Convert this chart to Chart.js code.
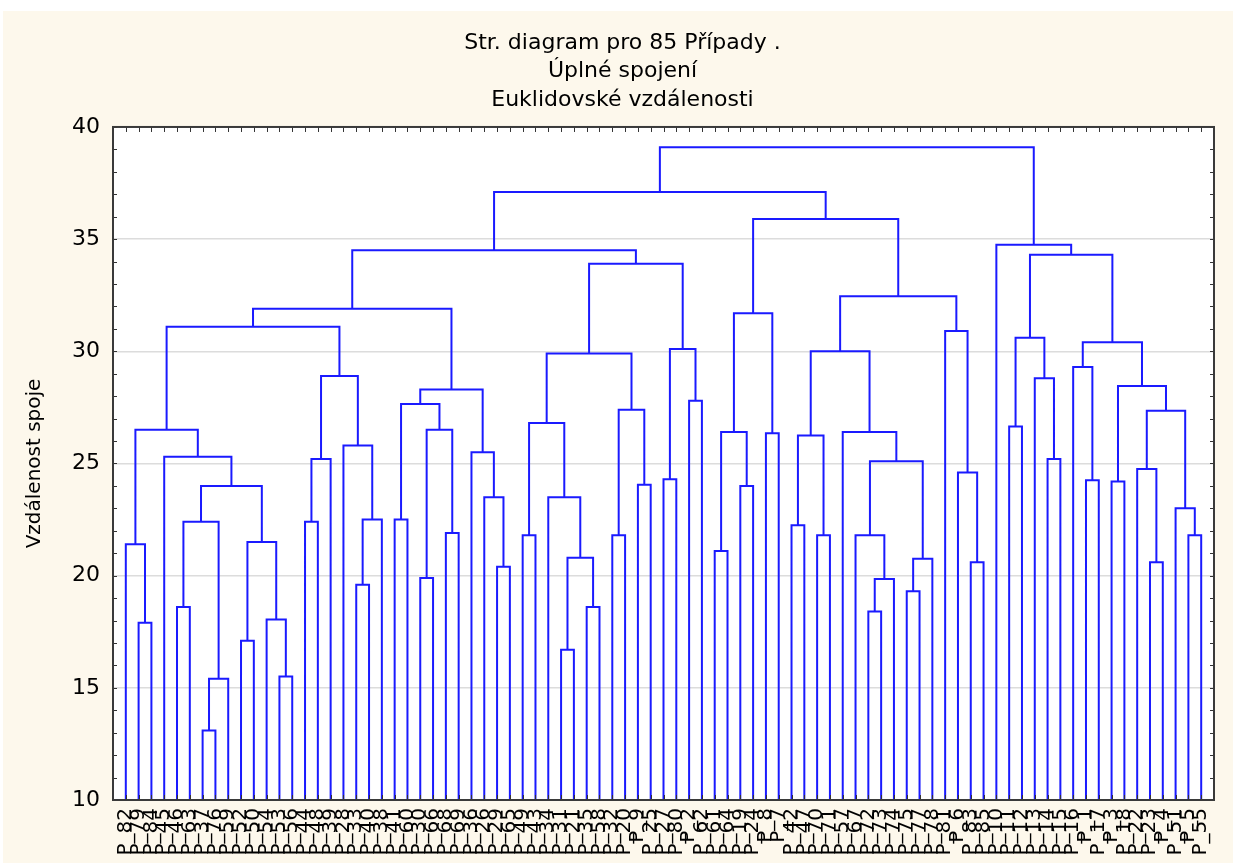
<!DOCTYPE html>
<html>
<head>
<meta charset="utf-8">
<title>Str. diagram pro 85 Případy</title>
<script src="https://cdn.jsdelivr.net/npm/chart.js@4.4.1/dist/chart.umd.min.js"></script>
<style>
  html, body { margin: 0; padding: 0; background: #fff; }
  #wrap { position: absolute; left: 3px; top: 11px; width: 1230px; height: 852px; background: #fdf8ec; overflow: hidden; }
</style>
</head>
<body>
<div id="wrap"><canvas id="chart" width="1230" height="852"></canvas></div>
<script>
// popisky listů (pořadí zleva doprava)
const leafLabels = [
  "P_82","P_79","P_84","P_45","P_46","P_63","P_37","P_76","P_59","P_52",
  "P_50","P_54","P_53","P_56","P_44","P_48","P_39","P_28","P_33","P_40",
  "P_38","P_41","P_60","P_30","P_66","P_68","P_69","P_36","P_26","P_29",
  "P_65","P_49","P_43","P_34","P_31","P_21","P_35","P_58","P_32","P_20",
  "P_9","P_25","P_27","P_80","P_2","P_62","P_61","P_64","P_19","P_24",
  "P_8","P_7","P_42","P_47","P_70","P_71","P_57","P_67","P_72","P_73",
  "P_74","P_75","P_77","P_78","P_81","P_6","P_83","P_85","P_10","P_11",
  "P_12","P_13","P_14","P_15","P_16","P_1","P_17","P_3","P_18","P_22",
  "P_23","P_4","P_51","P_5","P_55"
];

const titleLines = ["Str. diagram pro 85 Případy .", "Úplné spojení", "Euklidovské vzdálenosti"];
const yTitle = "Vzdálenost spoje";
const yMin = 10, yMax = 40, yStep = 5;

// shluky: [levý, pravý, vzdálenost spoje], list = číslo listu (1..85)
const clusterA = [1, [2, 3, 17.9], 21.4];
const clusterB = [4, [[[5, 6, 18.6], [[7, 8, 13.1], 9, 15.4], 22.4],
                      [[10, 11, 17.1], [12, [13, 14, 15.5], 18.05], 21.5], 24.0], 25.3];
const clusterC = [[[15, 16, 22.4], 17, 25.2], [18, [[19, 20, 19.6], 21, 22.5], 25.8], 28.9];
const clusterD = [[[22, 23, 22.5], [[24, 25, 19.9], [26, 27, 21.9], 26.5], 27.65],
                  [28, [29, [30, 31, 20.4], 23.5], 25.5], 28.3];
const clusterE = [[[32, 33, 21.8], [34, [[35, 36, 16.7], [37, 38, 18.6], 20.8], 23.5], 26.8],
                  [[39, 40, 21.8], [41, 42, 24.05], 27.4], 29.9];
const clusterF = [[43, 44, 24.3], [45, 46, 27.8], 30.1];
const clusterG = [[[47, 48, 21.1], [49, 50, 24.0], 26.4], [51, 52, 26.35], 31.7];
const clusterH = [[[[53, 54, 22.25], [55, 56, 21.8], 26.25],
                   [57, [[58, [[59, 60, 18.4], 61, 19.85], 21.8], [[62, 63, 19.3], 64, 20.75], 25.1], 26.4], 30.0],
                  [65, [66, [67, 68, 20.6], 24.6], 30.9], 32.45];
const clusterR = [69, [[[70, 71, 26.65], [72, [73, 74, 25.2], 28.8], 30.6],
                       [[75, [76, 77, 24.25], 29.3],
                        [[78, 79, 24.2], [[80, [81, 82, 20.6], 24.75], [83, [84, 85, 21.8], 23.0], 27.35], 28.45], 30.4], 34.3], 34.75];

const leftPart = [[[[clusterA, clusterB, 26.5], clusterC, 31.1], clusterD, 31.9], [clusterE, clusterF, 33.9], 34.5];
const midPart = [clusterG, clusterH, 35.9];
const tree = [[leftPart, midPart, 37.1], clusterR, 39.1];

// sestavení čar dendrogramu
let order = 0;
const posLabel = {};
const points = [];
function walk(node) {
  if (typeof node === "number") {
    order++;
    posLabel[order] = leafLabels[node - 1];
    return { x: order, h: yMin };
  }
  const L = walk(node[0]);
  const R = walk(node[1]);
  const h = node[2];
  points.push({ x: L.x, y: L.h }, { x: L.x, y: h }, { x: R.x, y: h }, { x: R.x, y: R.h }, { x: R.x, y: null });
  return { x: (L.x + R.x) / 2, h: h };
}
walk(tree);
const leafCount = order;

const family = "'DejaVu Sans', 'Liberation Sans', Arial";
const font = { family: family, size: 20, weight: "normal" };
const bigFont = { family: family, size: 22, weight: "normal" };

const framePlugin = {
  id: "frame",
  beforeDraw(chart) {
    const { ctx, chartArea: a } = chart;
    ctx.save();
    ctx.fillStyle = "#ffffff";
    ctx.fillRect(a.left, a.top, a.right - a.left, a.bottom - a.top);
    ctx.restore();
  },
  afterDraw(chart) {
    const { ctx, chartArea: a, scales: { x, y } } = chart;
    ctx.save();
    ctx.strokeStyle = "#333333";
    ctx.lineWidth = 1;
    ctx.beginPath();
    for (let i = 1; i <= leafCount; i++) {
      const px = Math.round(x.getPixelForValue(i)) + 0.5;
      ctx.moveTo(px, a.top); ctx.lineTo(px, a.top + 5);
      ctx.moveTo(px, a.bottom); ctx.lineTo(px, a.bottom - 5);
    }
    for (let v = yMin; v <= yMax; v++) {
      const py = Math.round(y.getPixelForValue(v)) + 0.5;
      ctx.moveTo(a.left, py); ctx.lineTo(a.left + 4, py);
      ctx.moveTo(a.right, py); ctx.lineTo(a.right - 4, py);
    }
    ctx.stroke();
    ctx.lineWidth = 2;
    ctx.strokeStyle = "#3a3a3a";
    ctx.strokeRect(a.left, a.top, a.right - a.left, a.bottom - a.top);
    ctx.restore();
  }
};

const ctx = document.getElementById("chart").getContext("2d");
new Chart(ctx, {
  type: "line",
  data: {
    datasets: [{
      data: points,
      borderColor: "#1a1aff",
      borderWidth: 2,
      pointRadius: 0,
      spanGaps: false,
      tension: 0
    }]
  },
  options: {
    responsive: false,
    animation: false,
    layout: { padding: { left: 28, right: 19, top: 0, bottom: 0 } },
    plugins: {
      legend: { display: false },
      tooltip: { enabled: false },
      title: {
        display: true,
        text: titleLines,
        color: "#000",
        font: { family: family, size: 22, weight: "normal", lineHeight: 1.295 },
        padding: { top: 18, bottom: 12.5 }
      }
    },
    scales: {
      x: {
        type: "linear",
        min: 0,
        max: leafCount + 1,
        grid: { display: false, drawTicks: false },
        border: { display: false },
        ticks: {
          stepSize: 1,
          autoSkip: false,
          maxRotation: 90,
          minRotation: 90,
          padding: 8,
          color: "#000",
          font: font,
          callback: v => posLabel[v] || ""
        },
        afterFit: s => { s.height = 63; s.paddingLeft = 0; s.paddingRight = 0; }
      },
      y: {
        min: yMin,
        max: yMax,
        grid: { color: "#dcdcdc", lineWidth: 1.5, drawTicks: false },
        border: { display: false },
        ticks: { stepSize: yStep, padding: 13, color: "#000", font: bigFont },
        title: {
          display: true,
          text: yTitle,
          color: "#000",
          font: font,
          padding: { top: -8, bottom: 0 }
        },
        afterFit: s => { s.width = 82; s.paddingTop = 0; s.paddingBottom = 0; }
      }
    }
  },
  plugins: [framePlugin]
});
</script>
</body>
</html>
